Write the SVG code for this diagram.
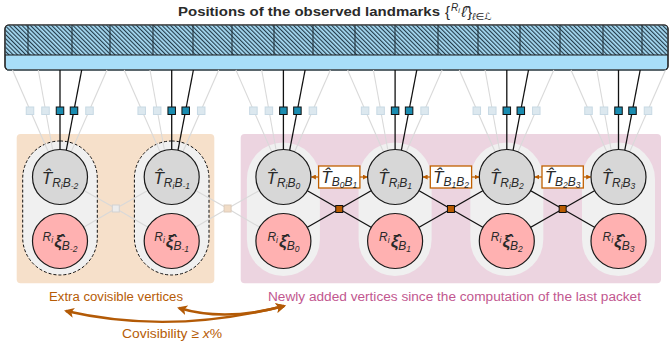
<svg xmlns="http://www.w3.org/2000/svg" width="671" height="349" viewBox="0 0 671 349">
<defs>
<pattern id="hatch" patternUnits="userSpaceOnUse" width="3" height="10" patternTransform="rotate(-45)">
<rect width="3" height="10" fill="#a8dcf5"/>
<line x1="0.6" y1="0" x2="0.6" y2="10" stroke="#1d3442" stroke-width="1.1"/>
</pattern>
<marker id="ah" viewBox="0 0 10 10" refX="9" refY="5" markerWidth="5" markerHeight="5" markerUnits="userSpaceOnUse" orient="auto-start-reverse">
<path d="M0,0 L10,5 L0,10 z" fill="#b95c00"/>
</marker>
<marker id="ahb" viewBox="0 0 10 10" refX="8" refY="5" markerWidth="10" markerHeight="10" markerUnits="userSpaceOnUse" orient="auto-start-reverse">
<path d="M0,0 L10,5 L0,10 L2.5,5 z" fill="#b35a06"/>
</marker>
</defs>
<style>
.t{font-family:"Liberation Sans","DejaVu Sans",sans-serif;fill:#2a2a2a}
.m{font-family:"Liberation Sans","DejaVu Sans",sans-serif;font-style:italic;fill:#2a2a2a}
.lg{stroke:#d9d9d9;stroke-width:1.1;fill:none}
.lb{stroke:#111;stroke-width:1.3;fill:none}
.sq{fill:#dce8ef;stroke:#c8d9e4;stroke-width:1}
.sqd{fill:#1a8cb0;stroke:#111;stroke-width:1}
.pill{fill:#f0f0f0}
.dash{stroke:#111;stroke-width:1;stroke-dasharray:3 2}
.tc{fill:#d7d7d7;stroke:#1a1a1a;stroke-width:1.2}
.xc{fill:#ffb1b1;stroke:#1a1a1a;stroke-width:1.2}
.fac{fill:#b85a00;stroke:#111;stroke-width:1}
.eb{fill:#fff;stroke:#c06000;stroke-width:1.3}
.ea{stroke:#c06000;stroke-width:1.3;marker-end:url(#ah)}
.big{font-size:17px}
.s1{font-size:12px}
.s2{font-size:8.5px}
.xi{font-size:17px;font-weight:bold}
</style>

<!-- title -->
<text class="t" x="178" y="16" font-size="13.5" font-weight="bold" textLength="262" lengthAdjust="spacingAndGlyphs">Positions of the observed landmarks</text>
<text class="t" x="445" y="17" font-size="15">{<tspan class="m" font-size="10" dx="1" dy="-6">R</tspan><tspan class="m" font-size="7" dy="2">i</tspan><tspan class="m" font-size="15" dx="1.5" dy="4">ℓ̂</tspan><tspan dx="1">}</tspan><tspan class="m" font-size="10" dy="3">ℓ∈ℒ</tspan></text>

<!-- landmark bar -->
<g id="landmarks">
<rect x="5" y="25" width="663" height="45" rx="4" fill="#a8def8" stroke="#2a2a2a" stroke-width="1.2"/>
<path d="M9,25.6 H664 A3.4,3.4 0 0 1 667.4,29 V55 H5.6 V29 A3.4,3.4 0 0 1 9,25.6 z" fill="url(#hatch)"/>
<line x1="5" y1="55" x2="668" y2="55" stroke="#1a1a1a" stroke-width="1"/>
<g stroke="#1d2a33" stroke-width="1">
<line x1="28" y1="25" x2="28" y2="55"/><line x1="72" y1="25" x2="72" y2="55"/><line x1="110" y1="25" x2="110" y2="55"/><line x1="153" y1="25" x2="153" y2="55"/><line x1="193" y1="25" x2="193" y2="55"/><line x1="232" y1="25" x2="232" y2="55"/><line x1="274" y1="25" x2="274" y2="55"/><line x1="313" y1="25" x2="313" y2="55"/><line x1="355" y1="25" x2="355" y2="55"/><line x1="395" y1="25" x2="395" y2="55"/><line x1="438" y1="25" x2="438" y2="55"/><line x1="478" y1="25" x2="478" y2="55"/><line x1="520" y1="25" x2="520" y2="55"/><line x1="560" y1="25" x2="560" y2="55"/><line x1="603" y1="25" x2="603" y2="55"/><line x1="642" y1="25" x2="642" y2="55"/>
</g>
<rect x="5" y="25" width="663" height="45" rx="4" fill="none" stroke="#2a2a2a" stroke-width="1.2"/>
<line x1="7" y1="70" x2="666" y2="70" stroke="#5a6a72" stroke-width="1.3"/>
</g>

<!-- regions -->
<rect x="16.7" y="134" width="197.6" height="149.3" rx="4" fill="#f6e0ca"/>
<rect x="240.7" y="134" width="420.3" height="149.3" rx="4" fill="#ecd4e0"/>

<!-- pills -->
<g id="pills">
<rect class="pill dash" x="22.7" y="141" width="74.6" height="134" rx="37.3"/>
<rect class="pill dash" x="134.4" y="141" width="74.6" height="134" rx="37.3"/>
<rect class="pill" x="246.9" y="142.5" width="73" height="133.5" rx="36.5"/>
<rect class="pill" x="358.6" y="142.5" width="73" height="133.5" rx="36.5"/>
<rect class="pill" x="470.3" y="142.5" width="73" height="133.5" rx="36.5"/>
<rect class="pill" x="582" y="142.5" width="73" height="133.5" rx="36.5"/>
</g>

<!-- connectors -->
<g id="connectors">
<g class="lg">
<line x1="12.5" y1="70" x2="51.9" y2="160"/><line x1="38.3" y1="70" x2="54.5" y2="160"/><line x1="107" y1="70" x2="67.6" y2="160"/>
<line x1="124.2" y1="70" x2="163.6" y2="160"/><line x1="150" y1="70" x2="166.2" y2="160"/><line x1="218.7" y1="70" x2="179.3" y2="160"/>
<line x1="235.9" y1="70" x2="275.3" y2="160"/><line x1="261.7" y1="70" x2="277.9" y2="160"/><line x1="330.4" y1="70" x2="291" y2="160"/>
<line x1="347.6" y1="70" x2="387" y2="160"/><line x1="373.4" y1="70" x2="389.6" y2="160"/><line x1="442.1" y1="70" x2="402.7" y2="160"/>
<line x1="459.3" y1="70" x2="498.7" y2="160"/><line x1="485.1" y1="70" x2="501.3" y2="160"/><line x1="553.8" y1="70" x2="514.4" y2="160"/>
<line x1="571" y1="70" x2="610.4" y2="160"/><line x1="596.8" y1="70" x2="613" y2="160"/><line x1="665.5" y1="70" x2="626.1" y2="160"/>
<line x1="115.8" y1="208.5" x2="60" y2="177"/><line x1="115.8" y1="208.5" x2="60" y2="241"/><line x1="115.8" y1="208.5" x2="171.7" y2="177"/><line x1="115.8" y1="208.5" x2="171.7" y2="241"/>
<line x1="227.6" y1="208.5" x2="171.7" y2="177"/><line x1="227.6" y1="208.5" x2="171.7" y2="241"/><line x1="227.6" y1="208.5" x2="283.4" y2="177"/><line x1="227.6" y1="208.5" x2="283.4" y2="241"/>
</g>
<g class="lb">
<line x1="60" y1="70" x2="60" y2="160"/><line x1="81.7" y1="70" x2="64.4" y2="160"/>
<line x1="171.7" y1="70" x2="171.7" y2="160"/><line x1="193.4" y1="70" x2="176.1" y2="160"/>
<line x1="283.4" y1="70" x2="283.4" y2="160"/><line x1="305.1" y1="70" x2="287.8" y2="160"/>
<line x1="395.1" y1="70" x2="395.1" y2="160"/><line x1="416.8" y1="70" x2="399.5" y2="160"/>
<line x1="506.8" y1="70" x2="506.8" y2="160"/><line x1="528.5" y1="70" x2="511.2" y2="160"/>
<line x1="618.5" y1="70" x2="618.5" y2="160"/><line x1="640.2" y1="70" x2="622.9" y2="160"/>
<line x1="339.25" y1="209" x2="283.4" y2="177"/><line x1="339.25" y1="209" x2="283.4" y2="241"/><line x1="339.25" y1="209" x2="395.1" y2="177"/><line x1="339.25" y1="209" x2="395.1" y2="241"/>
<line x1="450.95" y1="209" x2="395.1" y2="177"/><line x1="450.95" y1="209" x2="395.1" y2="241"/><line x1="450.95" y1="209" x2="506.8" y2="177"/><line x1="450.95" y1="209" x2="506.8" y2="241"/>
<line x1="562.65" y1="209" x2="506.8" y2="177"/><line x1="562.65" y1="209" x2="506.8" y2="241"/><line x1="562.65" y1="209" x2="618.5" y2="177"/><line x1="562.65" y1="209" x2="618.5" y2="241"/>
</g>
<!-- landmark factor squares -->
<g class="sq">
<rect x="26.25" y="107" width="7.5" height="7.5"/><rect x="41.75" y="107" width="7.5" height="7.5"/><rect x="85.75" y="107" width="7.5" height="7.5"/>
<rect x="137.95" y="107" width="7.5" height="7.5"/><rect x="153.45" y="107" width="7.5" height="7.5"/><rect x="197.45" y="107" width="7.5" height="7.5"/>
<rect x="249.65" y="107" width="7.5" height="7.5"/><rect x="265.15" y="107" width="7.5" height="7.5"/><rect x="309.15" y="107" width="7.5" height="7.5"/>
<rect x="361.35" y="107" width="7.5" height="7.5"/><rect x="376.85" y="107" width="7.5" height="7.5"/><rect x="420.85" y="107" width="7.5" height="7.5"/>
<rect x="473.05" y="107" width="7.5" height="7.5"/><rect x="488.55" y="107" width="7.5" height="7.5"/><rect x="532.55" y="107" width="7.5" height="7.5"/>
<rect x="584.75" y="107" width="7.5" height="7.5"/><rect x="600.25" y="107" width="7.5" height="7.5"/><rect x="644.25" y="107" width="7.5" height="7.5"/>
</g>
<g class="sqd">
<rect x="56.25" y="107" width="7.5" height="7.5"/><rect x="70.25" y="107" width="7.5" height="7.5"/>
<rect x="167.95" y="107" width="7.5" height="7.5"/><rect x="181.95" y="107" width="7.5" height="7.5"/>
<rect x="279.65" y="107" width="7.5" height="7.5"/><rect x="293.65" y="107" width="7.5" height="7.5"/>
<rect x="391.35" y="107" width="7.5" height="7.5"/><rect x="405.35" y="107" width="7.5" height="7.5"/>
<rect x="503.05" y="107" width="7.5" height="7.5"/><rect x="517.05" y="107" width="7.5" height="7.5"/>
<rect x="614.75" y="107" width="7.5" height="7.5"/><rect x="628.75" y="107" width="7.5" height="7.5"/>
</g>
<!-- odometry factors -->
<rect x="112.3" y="205" width="7" height="7" fill="#ececec" stroke="#d2d2d2" stroke-width="1"/>
<rect x="224.1" y="205" width="7" height="7" fill="#f1dcc6" stroke="#dccbbb" stroke-width="1"/>
<rect class="fac" x="335.75" y="205.5" width="7" height="7"/>
<rect class="fac" x="447.45" y="205.5" width="7" height="7"/>
<rect class="fac" x="559.15" y="205.5" width="7" height="7"/>
<!-- relative pose arrows -->
<line class="ea" x1="318.6" y1="177" x2="311.4" y2="177"/><line class="ea" x1="359.9" y1="177" x2="367.3" y2="177"/>
<line class="ea" x1="430.3" y1="177" x2="423.1" y2="177"/><line class="ea" x1="471.6" y1="177" x2="479" y2="177"/>
<line class="ea" x1="542" y1="177" x2="534.8" y2="177"/><line class="ea" x1="583.3" y1="177" x2="590.7" y2="177"/>
<!-- covisibility arrows -->
<path d="M66,311 Q170,335 284,306" fill="none" stroke="#b35a06" stroke-width="2.4" marker-start="url(#ahb)" marker-end="url(#ahb)"/>
<path d="M179,308 Q225,322 284,306" fill="none" stroke="#b35a06" stroke-width="2.4" marker-start="url(#ahb)" marker-end="url(#ahb)"/>
</g>

<!-- edge labels -->
<g id="e01">
<rect class="eb" x="318.6" y="166" width="41.3" height="22"/>
<text class="m" x="339.25" y="183" text-anchor="middle"><tspan class="big">T̂</tspan><tspan class="s1" dy="3">B</tspan><tspan class="s2" dy="1.5">0</tspan><tspan class="s1" dy="-1.5">B</tspan><tspan class="s2" dy="1.5">1</tspan></text>
</g>
<g id="e12">
<rect class="eb" x="430.3" y="166" width="41.3" height="22"/>
<text class="m" x="450.95" y="183" text-anchor="middle"><tspan class="big">T̂</tspan><tspan class="s1" dy="3">B</tspan><tspan class="s2" dy="1.5">1</tspan><tspan class="s1" dy="-1.5">B</tspan><tspan class="s2" dy="1.5">2</tspan></text>
</g>
<g id="e23">
<rect class="eb" x="542" y="166" width="41.3" height="22"/>
<text class="m" x="562.65" y="183" text-anchor="middle"><tspan class="big">T̂</tspan><tspan class="s1" dy="3">B</tspan><tspan class="s2" dy="1.5">2</tspan><tspan class="s1" dy="-1.5">B</tspan><tspan class="s2" dy="1.5">3</tspan></text>
</g>

<!-- nodes -->
<g id="T_Bm2"><circle class="tc" cx="60" cy="177" r="27.5"/>
<text class="m" x="60" y="184" text-anchor="middle"><tspan class="big">T̂</tspan><tspan class="s1" dy="3">R</tspan><tspan class="s2" dy="1.5">i</tspan><tspan class="s1" dy="-1.5">B</tspan><tspan class="s2" dy="1.5">-2</tspan></text></g>
<g id="X_Bm2"><circle class="xc" cx="60" cy="241" r="27.5"/>
<text class="m" x="60" y="247" text-anchor="middle"><tspan class="s1" dy="-6">R</tspan><tspan class="s2" dy="1.5">i</tspan><tspan class="xi" dx="1" dy="4.5">ξ̂</tspan><tspan class="s1" dy="3">B</tspan><tspan class="s2" dy="1.5">-2</tspan></text></g>

<g id="T_Bm1"><circle class="tc" cx="171.7" cy="177" r="27.5"/>
<text class="m" x="171.7" y="184" text-anchor="middle"><tspan class="big">T̂</tspan><tspan class="s1" dy="3">R</tspan><tspan class="s2" dy="1.5">i</tspan><tspan class="s1" dy="-1.5">B</tspan><tspan class="s2" dy="1.5">-1</tspan></text></g>
<g id="X_Bm1"><circle class="xc" cx="171.7" cy="241" r="27.5"/>
<text class="m" x="171.7" y="247" text-anchor="middle"><tspan class="s1" dy="-6">R</tspan><tspan class="s2" dy="1.5">i</tspan><tspan class="xi" dx="1" dy="4.5">ξ̂</tspan><tspan class="s1" dy="3">B</tspan><tspan class="s2" dy="1.5">-1</tspan></text></g>

<g id="T_B0"><circle class="tc" cx="283.4" cy="177" r="27.5"/>
<text class="m" x="283.4" y="184" text-anchor="middle"><tspan class="big">T̂</tspan><tspan class="s1" dy="3">R</tspan><tspan class="s2" dy="1.5">i</tspan><tspan class="s1" dy="-1.5">B</tspan><tspan class="s2" dy="1.5">0</tspan></text></g>
<g id="X_B0"><circle class="xc" cx="283.4" cy="241" r="27.5"/>
<text class="m" x="283.4" y="247" text-anchor="middle"><tspan class="s1" dy="-6">R</tspan><tspan class="s2" dy="1.5">i</tspan><tspan class="xi" dx="1" dy="4.5">ξ̂</tspan><tspan class="s1" dy="3">B</tspan><tspan class="s2" dy="1.5">0</tspan></text></g>

<g id="T_B1"><circle class="tc" cx="395.1" cy="177" r="27.5"/>
<text class="m" x="395.1" y="184" text-anchor="middle"><tspan class="big">T̂</tspan><tspan class="s1" dy="3">R</tspan><tspan class="s2" dy="1.5">i</tspan><tspan class="s1" dy="-1.5">B</tspan><tspan class="s2" dy="1.5">1</tspan></text></g>
<g id="X_B1"><circle class="xc" cx="395.1" cy="241" r="27.5"/>
<text class="m" x="395.1" y="247" text-anchor="middle"><tspan class="s1" dy="-6">R</tspan><tspan class="s2" dy="1.5">i</tspan><tspan class="xi" dx="1" dy="4.5">ξ̂</tspan><tspan class="s1" dy="3">B</tspan><tspan class="s2" dy="1.5">1</tspan></text></g>

<g id="T_B2"><circle class="tc" cx="506.8" cy="177" r="27.5"/>
<text class="m" x="506.8" y="184" text-anchor="middle"><tspan class="big">T̂</tspan><tspan class="s1" dy="3">R</tspan><tspan class="s2" dy="1.5">i</tspan><tspan class="s1" dy="-1.5">B</tspan><tspan class="s2" dy="1.5">2</tspan></text></g>
<g id="X_B2"><circle class="xc" cx="506.8" cy="241" r="27.5"/>
<text class="m" x="506.8" y="247" text-anchor="middle"><tspan class="s1" dy="-6">R</tspan><tspan class="s2" dy="1.5">i</tspan><tspan class="xi" dx="1" dy="4.5">ξ̂</tspan><tspan class="s1" dy="3">B</tspan><tspan class="s2" dy="1.5">2</tspan></text></g>

<g id="T_B3"><circle class="tc" cx="618.5" cy="177" r="27.5"/>
<text class="m" x="618.5" y="184" text-anchor="middle"><tspan class="big">T̂</tspan><tspan class="s1" dy="3">R</tspan><tspan class="s2" dy="1.5">i</tspan><tspan class="s1" dy="-1.5">B</tspan><tspan class="s2" dy="1.5">3</tspan></text></g>
<g id="X_B3"><circle class="xc" cx="618.5" cy="241" r="27.5"/>
<text class="m" x="618.5" y="247" text-anchor="middle"><tspan class="s1" dy="-6">R</tspan><tspan class="s2" dy="1.5">i</tspan><tspan class="xi" dx="1" dy="4.5">ξ̂</tspan><tspan class="s1" dy="3">B</tspan><tspan class="s2" dy="1.5">3</tspan></text></g>

<!-- captions -->
<text x="49" y="301" font-family="Liberation Sans, sans-serif" font-size="12.5" fill="#b65c06" textLength="134" lengthAdjust="spacingAndGlyphs">Extra covisible vertices</text>
<text x="268" y="301" font-family="Liberation Sans, sans-serif" font-size="12.5" fill="#c2578f" textLength="373" lengthAdjust="spacingAndGlyphs">Newly added vertices since the computation of the last packet</text>
<text x="122" y="338" font-family="Liberation Sans, sans-serif" font-size="13" fill="#b65c06" textLength="100" lengthAdjust="spacingAndGlyphs">Covisibility ≥ <tspan font-style="italic">x</tspan>%</text>
</svg>
